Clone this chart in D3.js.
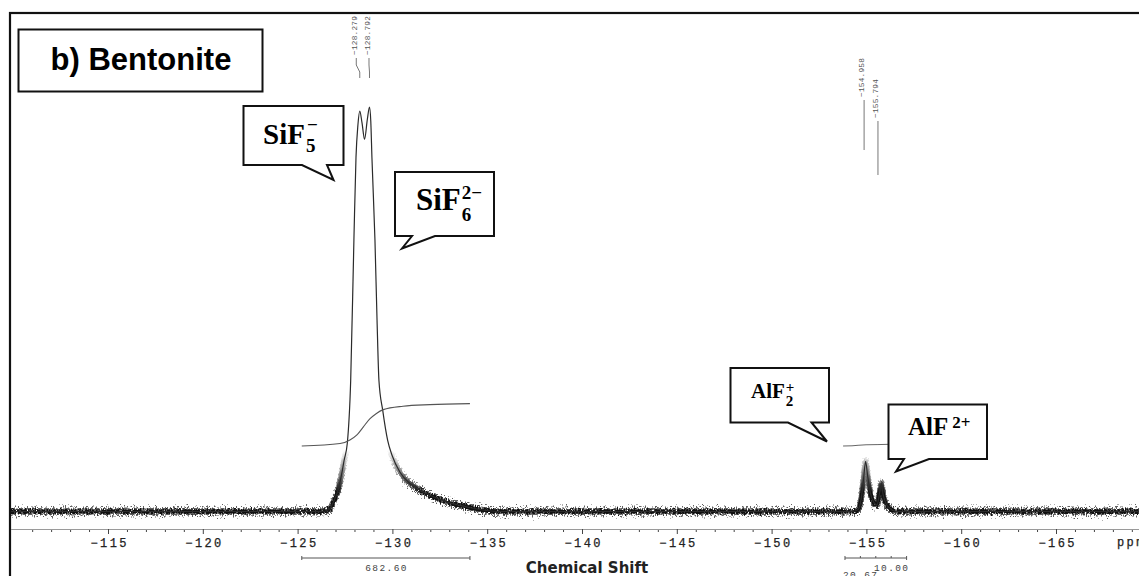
<!DOCTYPE html>
<html>
<head>
<meta charset="utf-8">
<script src="https://cdn.jsdelivr.net/npm/d3@7"></script>
<style>
  html, body { margin: 0; padding: 0; background: #fff; }
  svg { display: block; }
</style>
</head>
<body>
<svg id="chart" width="1139" height="576"></svg>
<script>
// 19F NMR spectrum: chemical shift (ppm) and relative intensity
const shiftPpm = [-109.8, -126.29, -126.66, -126.92, -127.13, -127.33, -127.45, -127.62, -127.80, -127.97,
  -128.08, -128.18, -128.279, -128.40, -128.53, -128.68, -128.792, -128.86, -128.92, -129.08,
  -129.19, -129.29, -129.49, -129.75, -129.98, -130.40, -130.93, -131.46, -131.98, -132.77,
  -133.57, -134.62, -135.68, -154.24, -154.56, -154.72, -154.85, -154.958, -155.06, -155.19,
  -155.40, -155.56, -155.69, -155.794, -155.87, -156.03, -156.24, -156.56, -169.4];
const intensity = [0, 0, 0.5, 2.7, 5.2, 9.4, 12.6, 16.8, 32.4, 67.1,
  87.6, 95.5, 99.0, 96.0, 92.0, 97.0, 100, 96.5, 87.6, 67.1,
  47.3, 32.4, 25.0, 17.6, 13.9, 9.7, 6.9, 5.2, 4.0, 2.5,
  1.5, 0.5, 0, 0, 0.5, 3, 8, 12.4, 9, 5,
  2.2, 1.6, 4.5, 6.9, 4.5, 2, 0.8, 0, 0];

// integral traces
const integral1Ppm = [-125.22, -127.24, -127.76, -128.13, -128.47, -128.82, -129.14, -129.52, -130.56, -131.98, -134.09];
const integral1Level = [0, 2.4, 6, 11, 19, 27, 32, 36, 39.4, 41, 42];
const integral2Ppm = [-153.77, -154.24, -154.56, -154.98, -155.61, -156.25];
const integral2Level = [0, 0.2, 0.7, 1.2, 1.4, 1.7];

// integral ranges and their values
const integralRangeStart = [-125.22, -153.87];
const integralRangeEnd = [-134.09, -157.12];
const integralValues = ["682.60", "20.67", "10.00"];

// picked peaks
const peakPpm = [-128.279, -128.792, -154.958, -155.794];

// axis ticks
const majorTicks = [-115, -120, -125, -130, -135, -140, -145, -150, -155, -160, -165];
const minorTicks = d3.range(-111, -170, -1).filter(v => v % 5 !== 0);

const W = 1139, H = 576;
const svg = d3.select("#chart");

const x = d3.scaleLinear().domain([-115, -165]).range([108, 1056]);
const y = d3.scaleLinear().domain([0, 100]).range([511.5, 107]);
const yInt = d3.scaleLinear().domain([0, 100]).range([446, 345]);

// ---------- defs ----------
const defs = svg.append("defs");
defs.append("clipPath").attr("id", "plotClip")
  .append("rect").attr("x", 11).attr("y", 14).attr("width", W - 11).attr("height", H - 14);

function grain(id, scale, freq, seed) {
  const f = defs.append("filter").attr("id", id)
    .attr("filterUnits", "userSpaceOnUse")
    .attr("x", 0).attr("y", 0).attr("width", W).attr("height", H)
    .attr("color-interpolation-filters", "sRGB");
  f.append("feTurbulence").attr("type", "fractalNoise")
    .attr("baseFrequency", freq).attr("numOctaves", 2).attr("seed", seed).attr("result", "t");
  f.append("feColorMatrix").attr("in", "t").attr("type", "matrix")
    .attr("values", "0 0 0 0 0.5  0 1 0 0 0  0 0 0 0 0  0 0 0 0 1").attr("result", "m");
  f.append("feDisplacementMap").attr("in", "SourceGraphic").attr("in2", "m")
    .attr("scale", scale).attr("xChannelSelector", "R").attr("yChannelSelector", "G");
}
grain("grainWide", 16, "0.9 0.5", 4);
grain("grainCore", 8, "0.7 0.4", 9);

const grad = defs.append("linearGradient").attr("id", "footGrad")
  .attr("gradientUnits", "userSpaceOnUse")
  .attr("x1", 0).attr("y1", 450).attr("x2", 0).attr("y2", 492);
grad.append("stop").attr("offset", 0).attr("stop-color", "#000");
grad.append("stop").attr("offset", 1).attr("stop-color", "#fff");
defs.append("mask").attr("id", "footMask").attr("maskUnits", "userSpaceOnUse")
  .attr("x", 0).attr("y", 0).attr("width", W).attr("height", H)
  .append("rect").attr("x", 0).attr("y", 400).attr("width", W).attr("height", 176)
  .attr("fill", "url(#footGrad)");

// ---------- outer frame ----------
svg.append("rect").attr("x", 10).attr("y", 13).attr("width", W + 20).attr("height", H + 20)
  .attr("fill", "#fff").attr("stroke", "#111").attr("stroke-width", 2.2);

const plot = svg.append("g").attr("clip-path", "url(#plotClip)");

// ---------- x axis ----------
const axisY = 529;
const axisScale = x.copy().domain([x.invert(10), x.invert(W)]).range([10, W]);

const axisG = plot.append("g").attr("transform", `translate(0,${axisY})`);
axisG.call(d3.axisBottom(axisScale).tickValues(minorTicks).tickSize(3).tickSizeOuter(0).tickFormat(""));
axisG.append("g").call(d3.axisBottom(axisScale).tickValues(majorTicks).tickSize(5).tickPadding(4)
  .tickSizeOuter(0).tickFormat(d3.format("d")));
axisG.selectAll(".domain").attr("stroke", "#9a9a9a").attr("stroke-width", 1);
axisG.selectAll(".tick line").attr("stroke", "#444").attr("stroke-width", 1);
axisG.selectAll(".tick text")
  .attr("font-family", "'Liberation Mono', 'DejaVu Sans Mono', monospace")
  .attr("font-size", 12).attr("letter-spacing", 2.4).attr("dx", 1.2)
  .attr("fill", "#222").attr("stroke", "#222").attr("stroke-width", 0.25);

plot.append("text").attr("x", 1117).attr("y", axisY + 17)
  .attr("font-family", "'Liberation Mono', 'DejaVu Sans Mono', monospace")
  .attr("font-size", 12).attr("letter-spacing", 2.4).attr("fill", "#222")
  .attr("stroke", "#222").attr("stroke-width", 0.25).text("ppm");

svg.append("text").attr("x", 587).attr("y", 573).attr("text-anchor", "middle")
  .attr("font-family", "'DejaVu Sans', sans-serif").attr("font-weight", "bold")
  .attr("font-size", 15).attr("fill", "#222").text("Chemical Shift");

// ---------- integral brackets ----------
const monoSmall = "'Liberation Mono', 'DejaVu Sans Mono', monospace";
const bracketY = 558;
integralRangeStart.forEach((s, i) => {
  const x0 = x(s), x1 = x(integralRangeEnd[i]);
  plot.append("line").attr("x1", x0).attr("x2", x1).attr("y1", bracketY).attr("y2", bracketY)
    .attr("stroke", "#555").attr("stroke-width", 1);
  const nt = i === 0 ? 2 : 5;
  d3.range(nt).forEach(k => {
    const xt = x0 + (x1 - x0) * k / (nt - 1);
    plot.append("line").attr("x1", xt).attr("x2", xt).attr("y1", bracketY - 2).attr("y2", bracketY + (k === 0 || k === nt - 1 ? 2 : 0))
      .attr("stroke", "#555").attr("stroke-width", 1);
  });
});
const intLabelX = [(x(integralRangeStart[0]) + x(integralRangeEnd[0])) / 2, 860, 891];
const intLabelY = [571, 578, 571];
integralValues.forEach((v, i) => {
  plot.append("text").attr("x", intLabelX[i] + 0.7).attr("y", intLabelY[i]).attr("text-anchor", "middle")
    .attr("font-family", monoSmall).attr("font-size", 9.5).attr("letter-spacing", 1.4)
    .attr("fill", "#444").text(v);
});

// ---------- spectrum ----------
const idx = d3.range(shiftPpm.length);
const spectrumLine = d3.line()
  .x(i => x(shiftPpm[i]))
  .y(i => y(intensity[i]))
  .curve(d3.curveMonotoneX);

const noisy = plot.append("g").attr("mask", "url(#footMask)");
noisy.append("path").attr("d", spectrumLine(idx)).attr("fill", "none")
  .attr("stroke", "#444").attr("stroke-width", 6).attr("stroke-opacity", 0.85)
  .attr("filter", "url(#grainWide)");
noisy.append("path").attr("d", spectrumLine(idx)).attr("fill", "none")
  .attr("stroke", "#111").attr("stroke-width", 4)
  .attr("filter", "url(#grainCore)");
plot.append("path").attr("d", spectrumLine(idx)).attr("fill", "none")
  .attr("stroke", "#2b2b2b").attr("stroke-width", 1.2).attr("stroke-linejoin", "round");

// ---------- integral curves ----------
function integralCurve(ppm, level) {
  return d3.line().x(i => x(ppm[i])).y(i => yInt(level[i])).curve(d3.curveMonotoneX)(d3.range(ppm.length));
}
plot.append("path").attr("d", integralCurve(integral1Ppm, integral1Level))
  .attr("fill", "none").attr("stroke", "#555").attr("stroke-width", 1.1);
plot.append("path").attr("d", integralCurve(integral2Ppm, integral2Level))
  .attr("fill", "none").attr("stroke", "#666").attr("stroke-width", 1);

// ---------- peak labels ----------
const labelDx = [-4.5, -1.5, -3.5, -5.5];
const labelBottom = [55, 55, 97, 118];
const leaderEnd = [78, 78, 150, 175];
peakPpm.forEach((p, i) => {
  const px = x(p), lx = px + labelDx[i];
  plot.append("text")
    .attr("transform", `translate(${lx},${labelBottom[i]}) rotate(-90)`)
    .attr("dominant-baseline", "central")
    .attr("font-family", monoSmall).attr("font-size", 7.8).attr("letter-spacing", 0.2)
    .attr("fill", "#555").text(d3.format(".3f")(p));
  const leader = i < 2
    ? `M${lx + 1},${labelBottom[i] + 3} V${labelBottom[i] + 10} L${px},${leaderEnd[i] - 6} V${leaderEnd[i]}`
    : `M${lx + 2},${labelBottom[i] + 3} V${leaderEnd[i]}`;
  plot.append("path").attr("d", leader).attr("fill", "none")
    .attr("stroke", "#777").attr("stroke-width", 1);
});

// ---------- title box ----------
svg.append("rect").attr("x", 18.5).attr("y", 29.5).attr("width", 244).attr("height", 62)
  .attr("fill", "#fff").attr("stroke", "#111").attr("stroke-width", 2);
svg.append("text").attr("x", 141).attr("y", 69.5).attr("text-anchor", "middle")
  .attr("font-family", "'Liberation Sans', Arial, sans-serif").attr("font-weight", "bold")
  .attr("font-size", 31).attr("fill", "#000").text("b) Bentonite");

// ---------- species callouts ----------
const callouts = [
  { l: 243.5, t: 106, r: 343.5, b: 165, ta: 302, tb: 327, tip: [333.5, 180] },
  { l: 395, t: 172, r: 494, b: 236, ta: 412, tb: 435, tip: [402, 248.5] },
  { l: 730.5, t: 368, r: 829, b: 422.5, ta: 788, tb: 811.5, tip: [827, 441.5] },
  { l: 888.5, t: 404.5, r: 987, b: 459, ta: 904, tb: 929, tip: [896, 471.5] }
];
callouts.forEach(c => {
  svg.append("path")
    .attr("d", `M${c.l},${c.t} H${c.r} V${c.b} H${c.tb} L${c.tip[0]},${c.tip[1]} L${c.ta},${c.b} H${c.l} Z`)
    .attr("fill", "#fff").attr("stroke", "#111").attr("stroke-width", 2)
    .attr("stroke-linejoin", "miter");
});

const serif = "'Liberation Serif', 'DejaVu Serif', serif";
function formula(base, bx, by, size, sub, sup, subSize, subDy, supDy, supDx) {
  const t = svg.append("text").attr("x", bx).attr("y", by)
    .attr("font-family", serif).attr("font-weight", "bold").attr("font-size", size)
    .attr("fill", "#000").text(base);
  const w = t.node().getComputedTextLength();
  if (sub) {
    svg.append("text").attr("x", bx + w + 1).attr("y", by + subDy)
      .attr("font-family", serif).attr("font-weight", "bold").attr("font-size", subSize)
      .attr("fill", "#000").text(sub);
  }
  if (sup) {
    svg.append("text").attr("x", bx + w + 1 + (supDx || 0)).attr("y", by + supDy)
      .attr("font-family", serif).attr("font-weight", "bold").attr("font-size", subSize)
      .attr("fill", "#000").text(sup);
  }
}
formula("SiF", 263, 144, 29, "5", "\u2212", 19, 8, -13, 1);
formula("SiF", 416, 210, 31, "6", "2\u2212", 19, 11, -11, 0);
formula("AlF", 751, 398, 21, "2", "+", 15, 8, -6, 0);
formula("AlF", 908, 435, 25, null, "2+", 17, 0, -7, 3);
</script>
</body>
</html>
